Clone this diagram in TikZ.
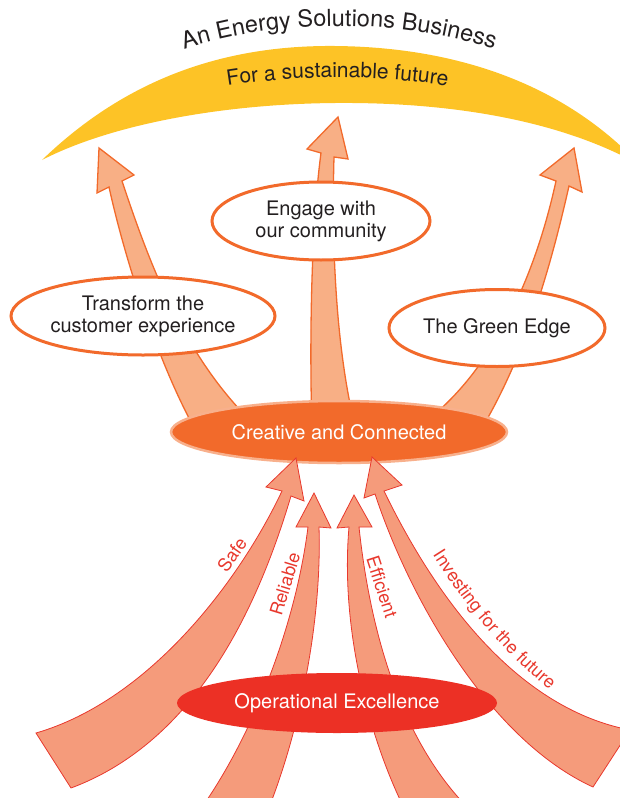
\documentclass[tikz,border=0pt]{standalone}
\usepackage{fontspec}
\setmainfont{TeX Gyre Heros}
\usetikzlibrary{shapes.geometric, decorations.text}
\definecolor{sunyellow}{HTML}{FDC326}
\definecolor{flameorange}{HTML}{F26A2B}
\definecolor{peachsoft}{HTML}{F8AF85}
\definecolor{peachedge}{HTML}{F8B08C}
\definecolor{salmonsoft}{HTML}{F59B7B}
\definecolor{signalred}{HTML}{E8382D}
\definecolor{opsred}{HTML}{EC3025}
\definecolor{inkdark}{HTML}{231F20}
\tikzset{
  txt/.style={font=\fontsize{20}{22}\selectfont, text=inkdark, align=center},
  bubble/.style={ellipse, draw=flameorange, line width=3pt, fill=white, inner sep=0pt, txt},
  hub/.style={ellipse, inner sep=0pt, font=\fontsize{20}{22}\selectfont, text=white},
  upflow/.style={fill=peachsoft, draw=flameorange, line width=1.3pt},
  baseflow/.style={fill=salmonsoft, draw=signalred, line width=0.8pt},
  tag/.style={font=\fontsize{18}{20}\selectfont, text=signalred, inner sep=0pt},
  arctext/.style={decorate, decoration={text along path, text align=center, text color=inkdark, text={#1}}},
  edgetext/.style={decorate, decoration={text along path, text align=center, text color=signalred, text={#1}}},
}

\begin{document}
\begin{tikzpicture}[x=1pt, y=-1pt]
  \useasboundingbox (0,0) rectangle (620,798);
  \fill[sunyellow] (42,160) .. controls (130,75) and (230,45) .. (335,46)
    .. controls (450,47) and (560,80) .. (640,165)
    .. controls (560,120) and (450,102) .. (335,103)
    .. controls (220,104) and (110,125) .. (42,160) -- cycle;
  \path[arctext={|\fontsize{23.5}{25}\selectfont|An Energy Solutions Business}]
    (166,56) .. controls (268,16) and (412,16) .. (512,56);
  \path[arctext={|\fontsize{21}{23}\selectfont|For a sustainable future}]
    (200,91) .. controls (283,73) and (392,73) .. (475,91);

  \draw[upflow] (97,193) -- (99,148) -- (134,175) -- (122,181) .. controls (150,265) and (185,360) .. (258,428)
    -- (200,438) .. controls (160,370) and (125,260) .. (109,187) -- cycle;
  \draw[upflow] (307,149) -- (338,117) -- (348,159) -- (334,157) .. controls (331,260) and (338,360) .. (356,430)
    -- (312,430) .. controls (309,330) and (312,220) .. (321,153) -- cycle;
  \draw[upflow] (540,175) -- (574,148) -- (582,192) -- (569,186) .. controls (550,270) and (525,355) .. (482,428)
    -- (425,422) .. controls (480,380) and (530,300) .. (556,181) -- cycle;

  \node[bubble, minimum width=264pt, minimum height=78pt] (transform) at (143,316) {Transform the\\customer experience};
  \node[bubble, minimum width=218pt, minimum height=78pt] (engage) at (321,221) {Engage with\\our community};
  \node[bubble, minimum width=216pt, minimum height=77pt] (greenedge) at (497,328) {The Green Edge};
  \node[hub, fill=flameorange, draw=peachedge, line width=2.5pt, minimum width=336pt, minimum height=62pt] (creative) at (339,432) {Creative and Connected};

  \draw[baseflow] (266,487) -- (296,458) -- (304,501) -- (291,496) .. controls (260,600) and (200,740) .. (71,788)
    -- (36,733) .. controls (150,700) and (240,580) .. (282,491) -- cycle;
  \draw[baseflow] (296,527) -- (314,493) -- (331,528) -- (319,527) .. controls (322,620) and (300,730) .. (268,810)
    -- (200,810) .. controls (250,740) and (295,630) .. (308,527) -- cycle;
  \draw[baseflow] (337,528) -- (354,495) -- (372,527) -- (359,527) .. controls (370,630) and (400,740) .. (470,810)
    -- (405,810) .. controls (370,740) and (340,630) .. (349,527) -- cycle;
  \draw[baseflow] (364,498) -- (372,457) -- (402,485) -- (384,491) .. controls (420,565) and (500,705) .. (630,730)
    -- (593,787) .. controls (490,740) and (410,600) .. (375,494) -- cycle;

  \node[hub, fill=opsred, minimum width=320pt, minimum height=60pt] (operational) at (337,703) {Operational Excellence};

  \node[tag, rotate=55] (safe) at (232,555) {Safe};
  \node[tag, rotate=73] (reliable) at (285,584) {Reliable};
  \node[tag, rotate=-72] (efficient) at (382,587) {Efficient};
  \path[edgetext={|\fontsize{18}{20}\selectfont|Investing for the future}]
    (410,516) .. controls (445,581) and (505,665) .. (586,716);
\end{tikzpicture}
\end{document}
